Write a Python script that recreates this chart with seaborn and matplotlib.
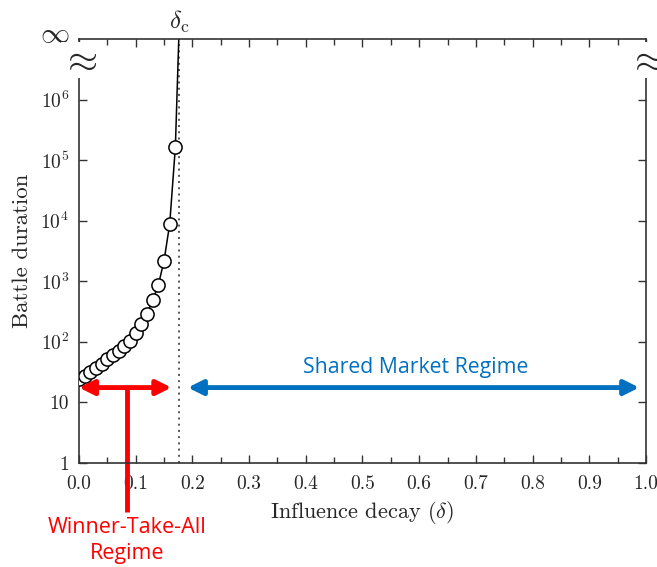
import numpy as np
import pandas as pd
import matplotlib
matplotlib.use("Agg")
import matplotlib.pyplot as plt
import matplotlib.transforms as mtransforms
import seaborn as sns

# values
delta = [0.00, 0.01, 0.02, 0.03, 0.04, 0.05, 0.06, 0.07, 0.08, 0.09,
         0.10, 0.11, 0.12, 0.13, 0.14, 0.15, 0.16, 0.17]
duration = [24.4, 27.7, 32.3, 36.7, 42.8, 51.8, 61, 71.8, 86.9, 105,
            139, 198, 290, 482, 875, 2180, 8820, 165000]
delta_c = 0.176
y_top = 1e7

x_ticks = [0.0, 0.1, 0.2, 0.3, 0.4, 0.5, 0.6, 0.7, 0.8, 0.9, 1.0]
y_ticks = [1, 10, 1e2, 1e3, 1e4, 1e5, 1e6]
y_ticklabels = ['1', '10', r'$10^{2}$', r'$10^{3}$', r'$10^{4}$', r'$10^{5}$', r'$10^{6}$']

df = pd.DataFrame({'delta': delta, 'duration': duration})

sns.set_style('ticks')
plt.rcParams['font.family'] = ['cmr10', 'DejaVu Serif']
plt.rcParams['mathtext.fontset'] = 'cm'
plt.rcParams['axes.unicode_minus'] = False

fig = plt.figure(figsize=(6.57, 5.67), dpi=100)
ax = fig.add_axes([0.1202, 0.1834, 0.8631, 0.7478])

# line towards the divergence, then the measured points
ax.plot([delta[-1], delta_c], [duration[-1], y_top], color='black', lw=1.1, zorder=2)
sns.lineplot(data=df, x='delta', y='duration', ax=ax, color='black', lw=1.1,
             marker='o', markersize=9.5, markerfacecolor='white',
             markeredgecolor='black', markeredgewidth=1.1, zorder=3)

ax.axvline(delta_c, color='#555555', ls=(0, (1, 2.2)), lw=1.4, zorder=1)

ax.set_yscale('log')
ax.set_xlim(0, 1)
ax.set_ylim(1, y_top)
ax.set_xticks(x_ticks)
ax.set_xticklabels([f'{v:.1f}' for v in x_ticks])
ax.set_xticks(np.arange(0.05, 1.0, 0.1), minor=True)
ax.set_yticks(y_ticks)
ax.set_yticklabels(y_ticklabels)
ax.yaxis.set_minor_locator(matplotlib.ticker.NullLocator())
ax.tick_params(which='both', direction='in', top=True, right=True, labelsize=14,
               width=1.0, color='#333333')
ax.tick_params(which='major', length=6)
ax.tick_params(axis='x', which='major', pad=9)
ax.tick_params(axis='y', which='major', pad=7)
ax.tick_params(which='minor', length=4)
for s in ax.spines.values():
    s.set_linewidth(1.2)
    s.set_color('#333333')

ax.set_xlabel(r'Influence decay ($\delta$)', fontsize=16, labelpad=4)
ax.set_ylabel('Battle duration', fontsize=16.5, labelpad=6)

# infinity marker, axis breaks, critical point label
ax.text(-0.042, 1.009, r'$\infty$', transform=ax.transAxes, fontsize=21,
        ha='center', va='center')
for xa in (0.0, 1.0):
    ax.text(xa, 0.95, r'$\approx$', transform=ax.transAxes, fontsize=28,
            ha='center', va='center', clip_on=False,
            bbox=dict(facecolor='white', edgecolor='none', pad=0))
trans = mtransforms.blended_transform_factory(ax.transData, ax.transAxes)
ax.text(delta_c, 1.01, r'$\delta_{\rm c}$', transform=trans, fontsize=18,
        ha='center', va='bottom')

# regime arrows
red = '#FF0000'
blue = '#0070C0'
arrow_y = 17.6
ax.annotate('', xy=(0.0, arrow_y), xytext=(0.163, arrow_y),
            arrowprops=dict(arrowstyle='<|-|>', color=red, lw=3.5,
                            mutation_scale=22, shrinkA=0, shrinkB=0))
ax.plot([0.084, 0.084], [arrow_y, 0.155], color=red, lw=3.5, clip_on=False,
        solid_capstyle='butt')
ax.annotate('', xy=(0.192, arrow_y), xytext=(0.988, arrow_y),
            arrowprops=dict(arrowstyle='<|-|>', color=blue, lw=3.5,
                            mutation_scale=22, shrinkA=0, shrinkB=0))
ax.text(0.593, 37.2, 'Shared Market Regime', color=blue, fontsize=15.3,
        family='Open Sans', ha='center', va='center')
fig.text(0.193, 0.047, 'Winner-Take-All\nRegime', color=red, fontsize=15.5,
         family='Open Sans', ha='center', va='center', linespacing=1.3)

fig.savefig('out.png', dpi=100)
